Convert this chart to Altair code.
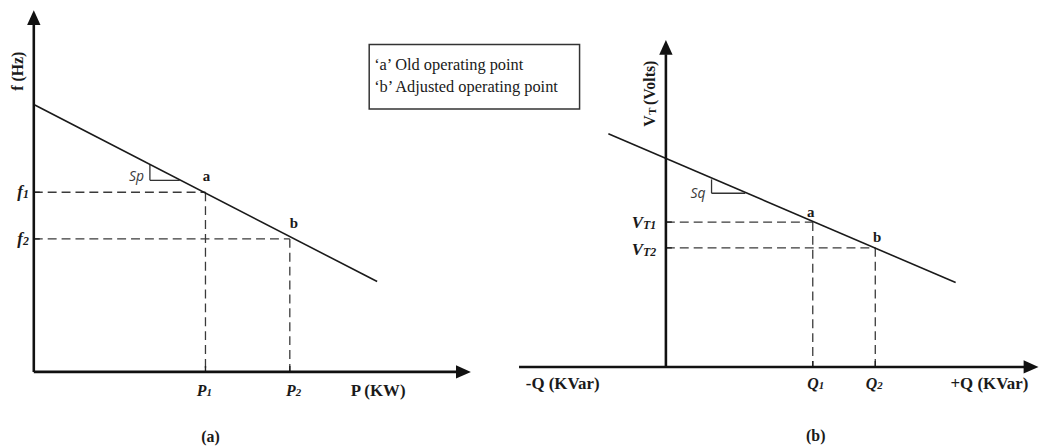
import altair as alt
import pandas as pd

# ---------------- diagram values (reference units: x to the right, y downward) ----------------
# Axis lines: (x, y, x2, y2)
AXIS_SEGMENTS = [
    (34, 373, 34, 22),      # (a) f axis
    (34, 373, 460, 373),    # (a) P axis
    (671, 368, 671, 53),    # (b) VT axis
    (523, 368, 1032, 368),  # (b) Q axis
]
ARROW_UP = [(34, 16), (671, 46)]
ARROW_RIGHT = [(467, 373), (1039, 368)]

# Droop characteristics
DROOP_LINES = [(35, 104, 380, 282), (613, 133, 963, 283)]

# Slope triangles (Sp, Sq)
SLOPE_MARKS = [
    (151, 164, 151, 180), (151, 180, 181, 180),
    (717, 179, 717, 193), (717, 193, 751, 193),
]

# Operating points a / b
A_PX = [207, 292]   # P1, P2
A_FY = [192, 239]   # f1, f2
B_QX = [819, 882]   # Q1, Q2
B_VY = [222, 248]   # VT1, VT2

DASHED = [
    (34, A_FY[0], A_PX[0], A_FY[0]), (A_PX[0], A_FY[0], A_PX[0], 373),
    (34, A_FY[1], A_PX[1], A_FY[1]), (A_PX[1], A_FY[1], A_PX[1], 373),
    (671, B_VY[0], B_QX[0], B_VY[0]), (B_QX[0], B_VY[0], B_QX[0], 368),
    (671, B_VY[1], B_QX[1], B_VY[1]), (B_QX[1], B_VY[1], B_QX[1], 368),
]
TICKS = [
    (34, A_FY[0], 40, A_FY[0]), (34, A_FY[1], 40, A_FY[1]),
    (A_PX[0], 373, A_PX[0], 367), (A_PX[1], 373, A_PX[1], 367),
    (671, B_VY[0], 677, B_VY[0]), (671, B_VY[1], 677, B_VY[1]),
    (B_QX[0], 368, B_QX[0], 362), (B_QX[1], 368, B_QX[1], 362),
]

LEGEND_BOX = [(372, 43, 584, 108)]
LEGEND_TEXT = ["\u2018a\u2019 Old operating point", "\u2018b\u2019 Adjusted operating point"]
LEGEND_X = [377, 377]
LEGEND_Y = [64, 86]

# Bold serif labels: text, x, y, size, angle
BOLD_LABELS = [
    ("P (KW)", 381, 392, 17, 0),
    ("-Q (KVar)", 567, 385, 17, 0),
    ("+Q (KVar)", 997, 385, 17, 0),
    ("a", 208, 176, 15, 0),
    ("b", 296, 223, 15, 0),
    ("a", 817, 212, 15, 0),
    ("b", 884, 237, 15, 0),
    ("(a)", 212, 439, 16, 0),
    ("(b)", 822, 438, 16, 0),
    ("f (Hz)", 18, 70, 16, 270),
]

# Subscripted italic labels: main text, subscript, split x, y, size
SUB_LABELS = [
    ("f", "1", 23, 192, 17),
    ("f", "2", 23, 239, 17),
    ("P", "1", 208, 392, 16),
    ("P", "2", 298, 392, 16),
    ("Q", "1", 825, 385, 16),
    ("Q", "2", 884, 385, 16),
    ("V", "T1", 648, 223, 17),
    ("V", "T2", 648, 250, 17),
]

SLOPE_TEXT = [("Sp", 145, 181), ("Sq", 711, 198)]

XS = alt.Scale(domain=[8, 1048], nice=False, zero=False)
YS = alt.Scale(domain=[8, 446], nice=False, zero=False, reverse=True)
SERIF = "Liberation Serif"


def enc_xy(ch):
    return ch.encode(
        x=alt.X("x:Q", scale=XS, axis=None),
        y=alt.Y("y:Q", scale=YS, axis=None),
    )


def seg_layer(segs, width, color="#1a1a1a", dash=None):
    df = pd.DataFrame(segs, columns=["x", "y", "x2", "y2"])
    kw = dict(strokeWidth=width, color=color, strokeCap="butt")
    if dash is not None:
        kw["strokeDash"] = dash
    return alt.Chart(df).mark_rule(**kw).encode(
        x=alt.X("x:Q", scale=XS, axis=None),
        y=alt.Y("y:Q", scale=YS, axis=None),
        x2="x2:Q",
        y2="y2:Q",
    )


def arrow_layer(pts, shape):
    df = pd.DataFrame(pts, columns=["x", "y"])
    return enc_xy(alt.Chart(df).mark_point(
        shape=shape, filled=True, size=225, color="#111111", opacity=1, strokeWidth=0
    ))


layers = []
layers.append(seg_layer(DASHED, 1.3, color="#3a3a3a", dash=[9, 5]))
layers.append(seg_layer(TICKS, 1.4, color="#222222"))
layers.append(seg_layer(SLOPE_MARKS, 1.3, color="#333333"))
layers.append(seg_layer(DROOP_LINES, 1.6, color="#1a1a1a"))
layers.append(seg_layer(AXIS_SEGMENTS, 2.6, color="#111111"))
layers.append(arrow_layer(ARROW_UP, "M0,-1L0.9,1L-0.9,1Z"))
layers.append(arrow_layer(ARROW_RIGHT, "M1,0L-1,0.9L-1,-0.9Z"))

# legend box
box_df = pd.DataFrame(LEGEND_BOX, columns=["x", "y", "x2", "y2"])
layers.append(alt.Chart(box_df).mark_rect(
    fill=None, stroke="#333333", strokeWidth=1.5, fillOpacity=0
).encode(
    x=alt.X("x:Q", scale=XS, axis=None),
    y=alt.Y("y:Q", scale=YS, axis=None),
    x2="x2:Q",
    y2="y2:Q",
))
leg_df = pd.DataFrame({"t": LEGEND_TEXT, "x": LEGEND_X, "y": LEGEND_Y})
layers.append(enc_xy(alt.Chart(leg_df).mark_text(
    font=SERIF, fontSize=16.5, align="left", baseline="middle", color="#1a1a1a"
)).encode(text="t:N"))

# bold labels
for t, x, y, s, ang in BOLD_LABELS:
    df = pd.DataFrame({"t": [t], "x": [x], "y": [y]})
    kw = dict(font=SERIF, fontSize=s, fontWeight="bold", align="center",
              baseline="middle", color="#1a1a1a")
    if ang:
        kw["angle"] = ang
    layers.append(enc_xy(alt.Chart(df).mark_text(**kw)).encode(text="t:N"))

# rotated VT (Volts) title
VT_PARTS = [("V", 655, 126, 16), ("T", 658, 114, 11), ("(Volts)", 655, 104, 16)]
for t, x, y, s in VT_PARTS:
    df = pd.DataFrame({"t": [t], "x": [x], "y": [y]})
    layers.append(enc_xy(alt.Chart(df).mark_text(
        font=SERIF, fontSize=s, fontWeight="bold", align="left", baseline="middle",
        angle=270, color="#1a1a1a"
    )).encode(text="t:N"))

# subscripted italic labels
for main, sub, x, y, s in SUB_LABELS:
    mdf = pd.DataFrame({"t": [main], "x": [x], "y": [y]})
    sdf = pd.DataFrame({"t": [sub], "x": [x], "y": [y + 2]})
    layers.append(enc_xy(alt.Chart(mdf).mark_text(
        font=SERIF, fontSize=s, fontWeight="bold", fontStyle="italic", align="right",
        baseline="middle", color="#1a1a1a"
    )).encode(text="t:N"))
    layers.append(enc_xy(alt.Chart(sdf).mark_text(
        font=SERIF, fontSize=round(s * 0.7), fontWeight="bold", fontStyle="italic",
        align="left", baseline="middle", color="#1a1a1a"
    )).encode(text="t:N"))

# slope labels
sl_df = pd.DataFrame({"t": [r[0] for r in SLOPE_TEXT], "x": [r[1] for r in SLOPE_TEXT],
                      "y": [r[2] for r in SLOPE_TEXT]})
layers.append(enc_xy(alt.Chart(sl_df).mark_text(
    font="Open Sans", fontSize=14, fontStyle="italic", align="right",
    baseline="alphabetic", color="#3a3a3a"
)).encode(text="t:N"))

chart = alt.layer(*layers).properties(
    width=1040, height=438, padding=0, background="white",
    autosize=alt.AutoSizeParams(type="none")
).configure_view(stroke=None)

chart.save("out.html", embed_options={"renderer": "svg", "actions": False})
